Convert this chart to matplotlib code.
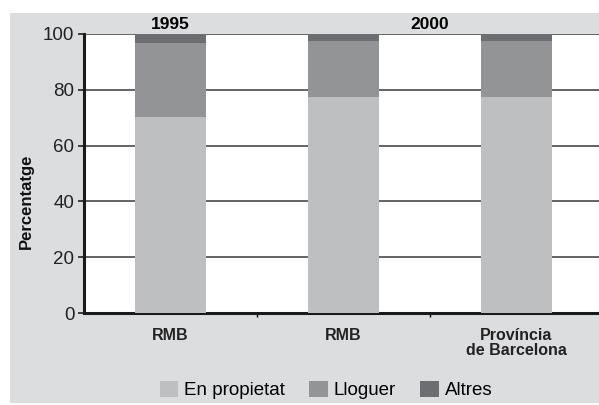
import numpy as np
import matplotlib
matplotlib.use("Agg")
import matplotlib.pyplot as plt
from matplotlib.patches import Rectangle

plt.rcParams['font.family'] = ['Liberation Sans', 'DejaVu Sans']

categories = ["RMB", "RMB", "Província\nde Barcelona"]
years = ["1995", "2000"]
propietat = [70.3, 77.5, 77.5]
lloguer = [26.5, 20.0, 20.0]
altres = [3.2, 2.5, 2.5]
series = [("En propietat", propietat, "#bebfc1"),
          ("Lloguer", lloguer, "#939496"),
          ("Altres", altres, "#6d6e71")]

fig = plt.figure(figsize=(5.99, 4.05), dpi=100, facecolor="white")
fig.patches.append(Rectangle((10/599, 2/405), 1, (405-15)/405, transform=fig.transFigure,
                             facecolor="#dcdddf", edgecolor="none", zorder=-5))
ax = fig.add_axes([84/599, 92/405, 519/599, 279/405])
ax.set_zorder(2)
ax.set_facecolor("white")

x = np.arange(len(categories))
bottom = np.zeros(len(categories))
for name, vals, col in series:
    ax.bar(x, vals, 0.41, bottom=bottom, color=col, label=name, zorder=3)
    bottom += np.array(vals)

ax.set_xlim(-0.5, 2.5)
ax.set_ylim(0, 100)
ax.set_yticks(range(0, 101, 20))
ax.tick_params(axis="y", labelsize=13.5, length=4, width=1.2, pad=3, colors="#222222")
ax.set_xticks(x)
ax.set_xticklabels(categories, fontweight="bold", fontsize=11.5, color="#222222", linespacing=1.0)
ax.tick_params(axis="x", length=0, pad=11)
ax.set_xticks([0.5, 1.5], minor=True)
ax.tick_params(axis="x", which="minor", length=3, width=1)
for v in range(20, 101, 20):
    ax.axhline(v, color="#4a4a4a", lw=1.2, zorder=1)
for s in ["top", "right"]:
    ax.spines[s].set_visible(False)
ax.spines["left"].set_linewidth(2.2)
ax.spines["bottom"].set_linewidth(2.2)
ax.spines["left"].set_color("#1a1a1a")
ax.spines["bottom"].set_color("#1a1a1a")
ax.set_ylabel("Percentatge", fontweight="bold", fontsize=12, color="#111111")
ax.yaxis.set_label_coords(-0.096, 0.40)

ax.text(0, 100.8, years[0], ha="center", va="bottom", fontweight="bold", fontsize=12.5)
ax.text(1.5, 100.8, years[1], ha="center", va="bottom", fontweight="bold", fontsize=12.5)

fig.legend(loc="center", bbox_to_anchor=(326/599, 15/405), ncol=3, frameon=False,
           fontsize=13.5, handlelength=1.0, handleheight=1.0, handletextpad=0.3,
           columnspacing=1.3)

fig.savefig("out.png", dpi=100, facecolor="white")
